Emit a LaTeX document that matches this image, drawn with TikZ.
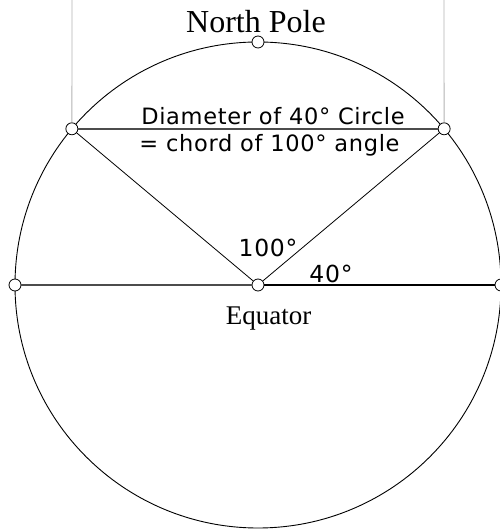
\documentclass[tikz,border=0pt]{standalone}
\usepackage{fontspec}
\setmainfont{Liberation Serif}
\newfontfamily\anglefont[LetterSpace=3]{DejaVu Sans}

\begin{document}
\begin{tikzpicture}[x=1pt, y=1pt, every node/.style={inner sep=0pt},
    dot/.style={circle, draw, fill=white, inner sep=0pt, minimum size=12pt, line width=0.8pt},
    guide/.style={gray!60, line width=0.8pt}]
	\useasboundingbox (-258,-244) rectangle (241,285);
	\draw[line width=0.9pt] (0,0) circle (243);
	\node[dot] (c) at (0,0) {};
	\node[dot] (np) at (90:243) {};
	\node[dot] (w) at (180:243) {};
	\node[dot] (e) at (0:243) {};
	\node[dot] (a) at (140:243) {};
	\node[dot] (b) at (40:243) {};
	\coordinate (ta) at (-186,285); \coordinate (tb) at (186,285);
	\draw[guide] (ta) -- (a);
	\draw[guide] (tb) -- (b);
	\draw[black!70, line width=1.5pt] (a) -- (b);
	\draw[black!70, line width=1.1pt] (w) -- (c);
	\draw[line width=1.5pt] (c) -- (e);
	\draw[line width=0.8pt] (a) -- (c) -- (b);
	\node[anchor=base, font=\fontsize{32}{32}\selectfont] (pole) at (-2,252) {North Pole};
	\node[anchor=base, font=\fontsize{27}{27}\selectfont] (eq) at (10.5,-40) {Equator};
	\node[anchor=base, font=\fontsize{22.5}{22.5}\anglefont] (dia) at (15,160) {Diameter of 40° Circle};
	\node[anchor=base, font=\fontsize{22.5}{22.5}\anglefont] (chord) at (11.5,133) {= chord of 100° angle};
	\node[anchor=base, font=\fontsize{23.5}{23.5}\anglefont] (big) at (10,28) {100°};
	\node[anchor=base, font=\fontsize{23.5}{23.5}\anglefont] (small) at (73,2) {40°};
\end{tikzpicture}
\end{document}
